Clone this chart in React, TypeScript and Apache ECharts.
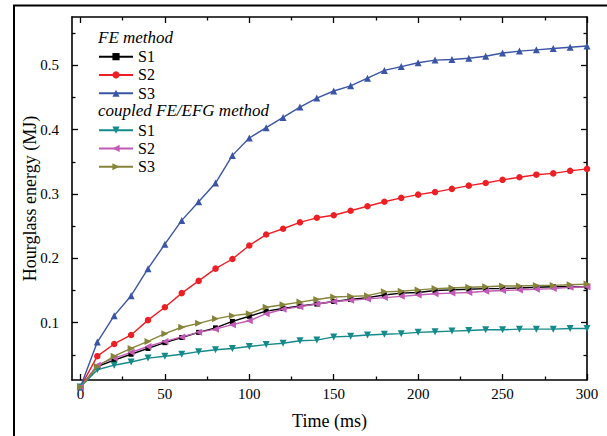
import React, { useEffect, useRef } from "react";
import * as echarts from "echarts";

const time = [0, 10, 20, 30, 40, 50, 60, 70, 80, 90, 100, 110, 120, 130, 140, 150, 160, 170, 180, 190, 200, 210, 220, 230, 240, 250, 260, 270, 280, 290, 300];

const feS1 = [0, 0.032, 0.042, 0.051, 0.06, 0.069, 0.077, 0.085, 0.092, 0.102, 0.11, 0.118, 0.122, 0.126, 0.129, 0.133, 0.136, 0.139, 0.143, 0.146, 0.147, 0.15, 0.151, 0.152, 0.153, 0.153, 0.154, 0.155, 0.156, 0.156, 0.156];
const feS2 = [0, 0.048, 0.067, 0.081, 0.104, 0.124, 0.146, 0.165, 0.184, 0.199, 0.22, 0.237, 0.246, 0.256, 0.263, 0.267, 0.274, 0.281, 0.288, 0.294, 0.299, 0.303, 0.308, 0.313, 0.317, 0.322, 0.326, 0.33, 0.332, 0.336, 0.339];
const feS3 = [0, 0.07, 0.111, 0.142, 0.184, 0.222, 0.259, 0.288, 0.317, 0.36, 0.387, 0.403, 0.419, 0.435, 0.449, 0.46, 0.468, 0.48, 0.492, 0.498, 0.504, 0.508, 0.509, 0.511, 0.514, 0.519, 0.522, 0.524, 0.526, 0.528, 0.53];
const cpS1 = [0, 0.027, 0.034, 0.039, 0.045, 0.048, 0.051, 0.055, 0.058, 0.06, 0.063, 0.066, 0.068, 0.072, 0.073, 0.078, 0.079, 0.081, 0.082, 0.083, 0.085, 0.086, 0.087, 0.088, 0.089, 0.089, 0.09, 0.09, 0.09, 0.091, 0.091];
const cpS2 = [0, 0.034, 0.045, 0.054, 0.063, 0.071, 0.078, 0.085, 0.09, 0.097, 0.103, 0.114, 0.121, 0.125, 0.129, 0.133, 0.135, 0.137, 0.139, 0.141, 0.143, 0.145, 0.146, 0.147, 0.149, 0.15, 0.151, 0.152, 0.153, 0.155, 0.156];
const cpS3 = [0, 0.032, 0.048, 0.06, 0.071, 0.083, 0.093, 0.099, 0.106, 0.111, 0.114, 0.124, 0.128, 0.132, 0.136, 0.14, 0.141, 0.142, 0.148, 0.149, 0.151, 0.153, 0.154, 0.155, 0.156, 0.157, 0.157, 0.158, 0.158, 0.159, 0.16];

const xMajor = [0, 50, 100, 150, 200, 250, 300];
const xMinor = [25, 75, 125, 175, 225, 275];
const yMajor = [0.1, 0.2, 0.3, 0.4, 0.5];
const yMinor = [0.05, 0.15, 0.25, 0.35, 0.45, 0.55];

const FONT = "Liberation Serif";

const DOWN_TRI = "path://M0,0 L10,0 L5,9 Z";
const LEFT_TRI = "path://M9,0 L9,10 L0,5 Z";
const RIGHT_TRI = "path://M0,0 L0,10 L9,5 Z";

export default function App() {
  const ref = useRef<HTMLDivElement>(null);
  useEffect(() => {
    if (!ref.current) return;
    const chart = echarts.init(ref.current, null, { renderer: "svg" });
    const X_MIN = -5, X_MAX = 300, Y_MIN = 0.011, Y_MAX = 0.575;
    const lineCol = "#000";
    const mkX = (pos: string, ticks: number[], len: number, showLine: boolean, labels: boolean, name?: string) => ({
      type: "value",
      min: X_MIN,
      max: X_MAX,
      position: pos,
      axisLine: { show: showLine, onZero: false, lineStyle: { color: lineCol, width: 1.6 } },
      axisTick: { show: true, inside: true, length: len, customValues: ticks, lineStyle: { color: lineCol, width: 1.3 } },
      axisLabel: labels
        ? { show: true, customValues: ticks, fontSize: 15, fontFamily: FONT, color: "#000", margin: 6 }
        : { show: false },
      splitLine: { show: false },
      name: name,
      nameLocation: "middle",
      nameGap: 32,
      nameMoveOverlap: false,
      nameTextStyle: { fontSize: 18, fontFamily: FONT, color: "#000" },
    });
    const mkY = (pos: string, ticks: number[], len: number, showLine: boolean, labels: boolean, name?: string) => ({
      type: "value",
      min: Y_MIN,
      max: Y_MAX,
      position: pos,
      axisLine: { show: showLine, onZero: false, lineStyle: { color: lineCol, width: 1.6 } },
      axisTick: { show: true, inside: true, length: len, customValues: ticks, lineStyle: { color: lineCol, width: 1.3 } },
      axisLabel: labels
        ? { show: true, customValues: ticks, fontSize: 15, fontFamily: FONT, color: "#000", margin: 13, formatter: (v: number) => v.toFixed(1) }
        : { show: false },
      splitLine: { show: false },
      name: name,
      nameLocation: "middle",
      nameGap: 33,
      nameMoveOverlap: false,
      nameTextStyle: { fontSize: 18, fontFamily: FONT, color: "#000" },
    });

    const mkSeries = (name: string, vals: number[], color: string, symbol: string, size: number) => ({
      name,
      type: "line",
      data: time.map((t, i) => [t, vals[i]]),
      symbol,
      symbolSize: size,
      clip: false,
      lineStyle: { color, width: 1.4 },
      itemStyle: { color },
      showAllSymbol: true,
    });

    const legendCommon = {
      orient: "vertical",
      itemWidth: 34,
      itemHeight: 9,
      itemGap: 0,
      padding: 0,
      selectedMode: false,
      textStyle: { fontSize: 16, lineHeight: 18.3, fontFamily: FONT, color: "#000" },
      formatter: (n: string) => n.split(" ")[1],
    };

    chart.setOption({
      animation: false,
      backgroundColor: "#fff",
      textStyle: { fontFamily: FONT },
      grid: { left: 72, top: 17, width: 515, height: 363 },
      xAxis: [
        mkX("bottom", xMajor, 6, true, true, "Time (ms)"),
        mkX("bottom", xMinor, 3.5, false, false),
        mkX("top", xMajor, 6, true, false),
        mkX("top", xMinor, 3.5, false, false),
      ],
      yAxis: [
        mkY("left", yMajor, 6, true, true, "Hourglass energy (MJ)"),
        mkY("left", yMinor, 3.5, false, false),
        mkY("right", yMajor, 6, true, false),
        mkY("right", yMinor, 3.5, false, false),
      ],
      legend: [
        { ...legendCommon, left: 98, top: 47.5, data: ["FE S1", "FE S2", "FE S3"] },
        { ...legendCommon, left: 98, top: 121, data: ["CP S1", "CP S2", "CP S3"] },
      ],
      graphic: [
        {
          type: "rect",
          shape: { x: 14, y: 5.5, width: 800, height: 600 },
          style: { fill: "none", stroke: "#000", lineWidth: 2 },
          silent: true,
        },
        {
          type: "text",
          left: 98,
          top: 29,
          style: { text: "FE method", font: `italic 17px "${FONT}"`, fill: "#000" },
        },
        {
          type: "text",
          left: 98,
          top: 102,
          style: { text: "coupled FE/EFG method", font: `italic 17px "${FONT}"`, fill: "#000" },
        },
      ],
      series: [
        mkSeries("FE S1", feS1, "#000000", "rect", 5),
        mkSeries("FE S2", feS2, "#ee1f24", "circle", 6.5),
        mkSeries("FE S3", feS3, "#3a55a5", "triangle", 7),
        mkSeries("CP S1", cpS1, "#148a8a", DOWN_TRI, 7),
        mkSeries("CP S2", cpS2, "#c25bb5", LEFT_TRI, 7),
        mkSeries("CP S3", cpS3, "#85843a", RIGHT_TRI, 7),
      ],
    });
    return () => chart.dispose();
  }, []);
  return <div ref={ref} style={{ position: "fixed", left: 0, top: 0, width: 607, height: 436 }} />;
}
